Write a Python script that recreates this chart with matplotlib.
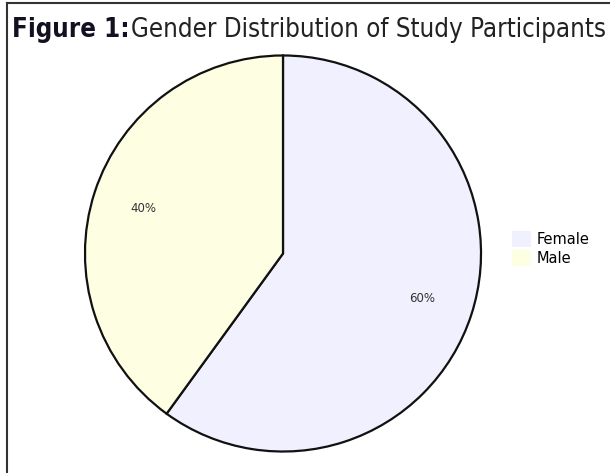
import matplotlib
matplotlib.use("Agg")
import matplotlib.pyplot as plt
from matplotlib import font_manager
from matplotlib.lines import Line2D

# --- datos ---
labels = ["Female", "Male"]
shares = [60, 40]
colors = ["#f0f0fe", "#fefee2"]
title_bold = "Figure 1:"
title_rest = "Gender Distribution of Study Participants"

W, H = 610, 473
fig = plt.figure(figsize=(W / 100, H / 100), dpi=100)

# buscar una fuente estrecha si existe
fam, stretch = "DejaVu Sans", "normal"
for f in font_manager.fontManager.ttflist:
    if "Narrow" in f.name or "Condensed" in f.name:
        fam, stretch = f.name, "normal"
        break
    if f.stretch in ("condensed", "semi-condensed", 600, 500) or str(f.stretch).endswith("condensed"):
        fam, stretch = f.name, f.stretch
        break

# marco (solo izquierda y arriba visibles)
fig.add_artist(Line2D([7 / W, 7 / W], [0, 1 - 3 / H], color="#333333", lw=1.5))
fig.add_artist(Line2D([7 / W, 1], [1 - 3 / H, 1 - 3 / H], color="#333333", lw=1.5))

# titulo: ajustar tamaño para que ocupe de x=12 a x=605
t1 = fig.text(12 / W, 1 - 37 / H, title_bold, fontsize=19, fontweight="bold",
              family=fam, fontstretch=stretch, color="#111122", va="baseline", ha="left")
t2 = fig.text(0, 1 - 37 / H, title_rest, fontsize=19, family=fam, fontstretch=stretch,
              color="#222222", va="baseline", ha="left")
rend = fig.canvas.get_renderer()
w1 = t1.get_window_extent(rend).width
w2 = t2.get_window_extent(rend).width
scale = min(1.0, (605 - 12 - 2) / (w1 + w2))
t1.set_fontsize(19 * scale)
t2.set_fontsize(19 * scale)
t2.set_x((12 + w1 * scale + 2) / W)

# pastel
cx, cy, r = 283, 253.5, 200
ax = fig.add_axes([(cx - r) / W, (H - cy - r) / H, 2 * r / W, 2 * r / H])
wedges, texts, autotexts = ax.pie(
    shares, colors=colors, startangle=90, counterclock=False,
    autopct="%d%%", pctdistance=0.74,
    wedgeprops=dict(edgecolor="#111111", linewidth=1.6),
    textprops=dict(fontsize=8.5, color="#333333"),
)
ax.set_xlim(-1.01, 1.01)
ax.set_ylim(-1.01, 1.01)
ax.set_aspect("equal")
ax.axis("off")

# leyenda
handles = [plt.Rectangle((0, 0), 1, 1, facecolor=c, edgecolor="none") for c in colors]
fig.legend(handles, labels, loc="upper left", bbox_to_anchor=(499 / W, 1 - 218 / H),
           frameon=False, fontsize=10.5, handlelength=1.3, handleheight=1.3,
           handletextpad=0.4, labelspacing=0.2)

fig.savefig("out.png", dpi=100)
